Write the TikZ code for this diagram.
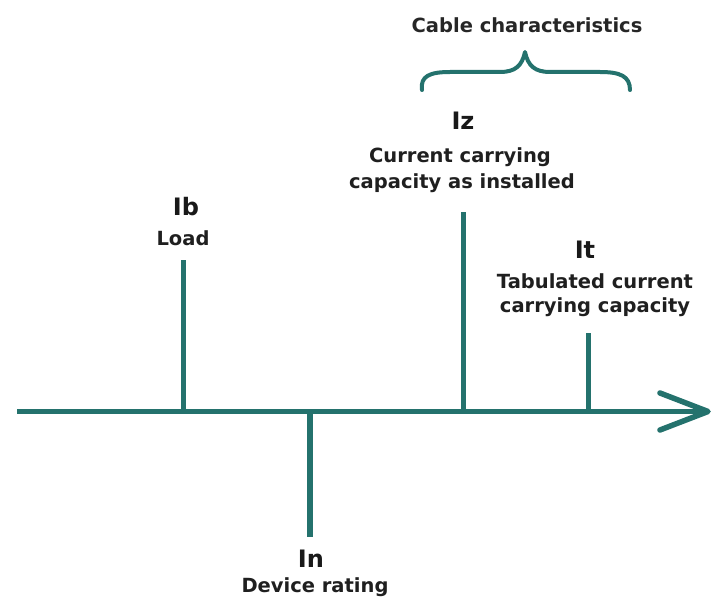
\documentclass[tikz,border=0pt]{standalone}
\usepackage{fontspec}
\setmainfont{DejaVu Sans}
\definecolor{axisteal}{RGB}{36,114,109}
\begin{document}
\begin{tikzpicture}[x=1pt,y=-1pt,
  stem/.style={draw=axisteal,line width=5.5pt},
  sym/.style={font=\bfseries\fontsize{24}{26}\selectfont,text=black!90,anchor=base},
  caption/.style={font=\bfseries\fontsize{19.5}{26}\selectfont,text=black!88,anchor=base},
  title/.style={font=\bfseries\fontsize{19.5}{22}\selectfont,text=black!85,anchor=base}]
\useasboundingbox (0,0) rectangle (726,599);

% horizontal current axis with open chevron head
\coordinate (start) at (17,411.5);
\coordinate (tip) at (708,411.5);
\coordinate (armA) at (660,393);
\coordinate (armB) at (660,430);
\draw[stem] (start) -- (tip);
\draw[stem,line join=round,line cap=round] (armA) -- (tip) -- (armB);

% markers on the axis
\coordinate (b0) at (183.5,411.5); \coordinate (b1) at (183.5,260);
\coordinate (n0) at (310,411.5);   \coordinate (n1) at (310,537);
\coordinate (z0) at (463.5,411.5); \coordinate (z1) at (463.5,212);
\coordinate (t0) at (588.5,411.5); \coordinate (t1) at (588.5,333);
\draw[stem] (b0) -- (b1);
\draw[stem] (n0) -- (n1);
\draw[stem] (z0) -- (z1);
\draw[stem] (t0) -- (t1);

% labels
\node[sym] (ib) at (186,215) {Ib};
\node[caption] (load) at (183,245) {Load};
\node[sym] (iz) at (463,130) {Iz};
\node[caption] (izc1) at (460,163) {Current carrying};
\node[caption] (izc2) at (462,189) {capacity as installed};
\node[sym] (it) at (585,258) {It};
\node[caption] (itc1) at (595,288) {Tabulated current};
\node[caption] (itc2) at (595,312) {carrying capacity};
\node[sym] (in) at (311,567) {In};
\node[caption] (inc) at (315,592) {Device rating};

% brace grouping the cable quantities
\node[title] (cable) at (527,33) {Cable characteristics};
\coordinate (brL) at (422,90);
\coordinate (brR) at (630,90);
\coordinate (cusp) at (525,52);
\draw[draw=axisteal,line width=4pt,line cap=round,line join=round]
  (brL) .. controls (420,76) and (430,72) .. (450,72)
  -- (500,72) .. controls (515,72) and (522,66) .. (cusp)
  .. controls (528,66) and (535,72) .. (550,72)
  -- (600,72) .. controls (620,72) and (630,76) .. (brR);
\end{tikzpicture}
\end{document}
